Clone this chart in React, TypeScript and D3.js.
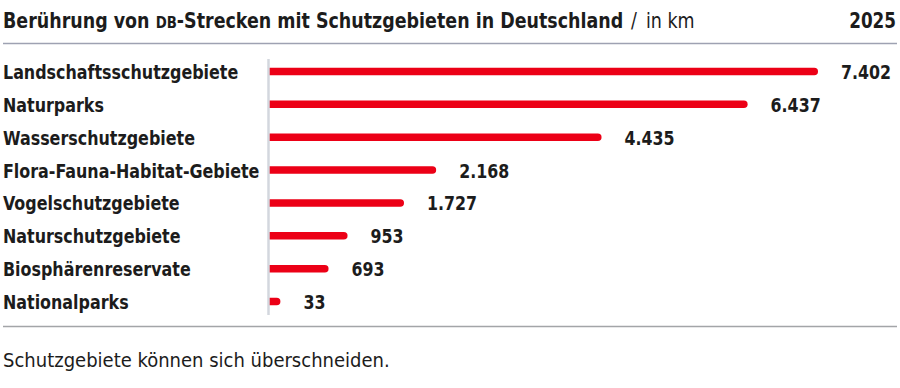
import React from 'react';
import * as d3 from 'd3';

const categories = [
  'Landschaftsschutzgebiete',
  'Naturparks',
  'Wasserschutzgebiete',
  'Flora-Fauna-Habitat-Gebiete',
  'Vogelschutzgebiete',
  'Naturschutzgebiete',
  'Biosphärenreservate',
  'Nationalparks',
];
const values = [7402, 6437, 4435, 2168, 1727, 953, 693, 33];
const year = '2025';

const W = 900;
const H = 388;
const font = '"DejaVu Sans Condensed", "DejaVu Sans", sans-serif';
const red = '#ec0016';
const ink = '#1c1c1c';

// narrow text horizontally to mimic the condensed house font
const Narrow: React.FC<{ x: number; y: number; s: number; size: number; weight?: number; anchor?: string; children: React.ReactNode }> =
  ({ x, y, s, size, weight = 700, anchor = 'start', children }) => (
    <text transform={`scale(${s},1)`} x={x / s} y={y} fontSize={size} fontWeight={weight} textAnchor={anchor}>
      {children}
    </text>
  );

const App: React.FC = () => {
  const axisX = 268.5;
  const x = d3.scaleLinear().domain([0, d3.max(values)!]).range([278, 818]);
  const y = d3.scaleBand<string>().domain(categories).range([55, 318]).padding(0);
  const fmt = d3.formatLocale({ decimal: ',', thousands: '.', grouping: [3], currency: ['', '€'] }).format(',d');
  const barH = 7.5;
  const r = barH / 2;

  const barPath = (v: number, cy: number) => {
    const x1 = x(v);
    return `M${axisX},${cy - r}H${x1 - r}A${r},${r} 0 0 1 ${x1 - r},${cy + r}H${axisX}Z`;
  };

  return (
    <svg width={W} height={H} style={{ position: 'absolute', left: 0, top: 0, background: '#fff' }}>
      <g fontFamily={font} fill={ink}>
        <Narrow x={3} y={28} s={0.925} size={21}>
          Berührung von <tspan fontSize={16}>DB</tspan>-Strecken mit Schutzgebieten in Deutschland
        </Narrow>
        <Narrow x={631} y={28} s={0.925} size={21} weight={400}>/</Narrow>
        <Narrow x={646} y={28} s={0.925} size={21} weight={400}>in km</Narrow>
        <Narrow x={896} y={28} s={0.89} size={21} anchor="end">{year}</Narrow>
        <line x1={3} x2={897} y1={43.5} y2={43.5} stroke="#9ea2b2" strokeWidth={1.5} />

        {categories.map((c, i) => {
          const cy = y(c)! + y.bandwidth() / 2;
          return (
            <g key={c}>
              <Narrow x={3} y={cy + 7.5} s={0.885} size={20}>{c}</Narrow>
              <path d={barPath(values[i], cy)} fill={red} />
              <Narrow x={x(values[i]) + 23} y={cy + 7.5} s={0.88} size={20}>{fmt(values[i])}</Narrow>
            </g>
          );
        })}
        <line x1={axisX} x2={axisX} y1={59} y2={315} stroke="#d3d7de" strokeWidth={2.5} />

        <line x1={3} x2={897} y1={326.5} y2={326.5} stroke="#a3a5a8" strokeWidth={1.5} />
        <text x={3} y={367} fontSize={20} fontWeight={400}>Schutzgebiete können sich überschneiden.</text>
      </g>
    </svg>
  );
};

export default App;
